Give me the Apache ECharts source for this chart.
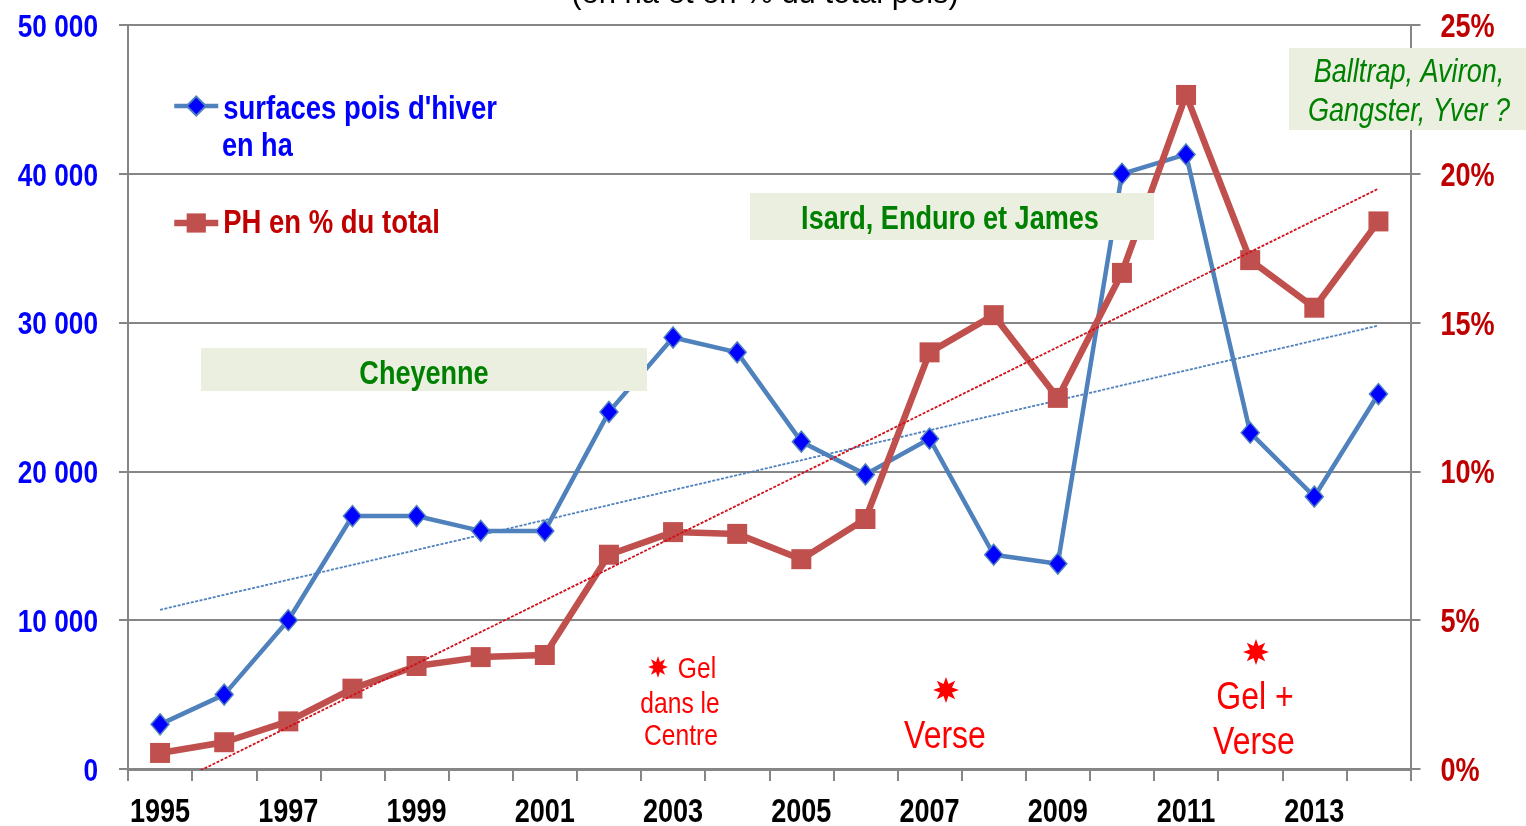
<!DOCTYPE html>
<html><head><meta charset="utf-8">
<style>html,body{margin:0;padding:0;background:#fff}#c{width:1526px;height:826px}</style>
<script src="https://cdn.jsdelivr.net/npm/echarts@6/dist/echarts.min.js"></script></head>
<body><div id="c"></div>
<script>
const years=['1995','1996','1997','1998','1999','2000','2001','2002','2003','2004','2005','2006','2007','2008','2009','2010','2011','2012','2013','2014'];
const surfaces=[3000,5000,10000,17000,17000,16000,16000,24000,29000,28000,22000,19800,22200,14400,13800,40000,41300,22600,18300,25200];
const partPH=[0.54,0.9,1.6,2.7,3.46,3.76,3.83,7.2,7.96,7.9,7.05,8.4,14,15.25,12.47,16.67,22.65,17.1,15.5,18.4];
const trendSurfaces=[10700,null,null,null,null,null,null,null,null,null,null,null,null,null,null,null,null,null,null,29800];
const trendPH=[-0.72,null,null,null,null,null,null,null,null,null,null,null,null,null,null,null,null,null,null,19.5];
const nameSurf="surfaces pois d'hiver en ha", namePH="PH en % du total";
const NARROW='"Liberation Sans Narrow","Liberation Sans",sans-serif';
const GRAY='#868686', BLUE='#4F81BD', RED='#C0504D', BOX='#EBEFE0', GREEN='#008000', ALERT='#FF0000';
const SQUEEZE=0.82;

function star(cx,cy,rx,ry){const p=[];for(let i=0;i<16;i++){const a=i*Math.PI/8-Math.PI/2,k=i%2?0.5:1;p.push([cx+rx*k*Math.cos(a),cy+ry*k*Math.sin(a)]);}
 return {type:'polygon',z:100,shape:{points:p},style:{fill:ALERT}};}
function txt(x,y,t,size,fill,extra){return {type:'text',x,y,z:101,style:Object.assign({text:t,fontFamily:NARROW,fontSize:size,fill,align:'center',verticalAlign:'middle'},extra||{})};}
function box(x,y,w,h){return {type:'rect',z:100,shape:{x,y,width:w,height:h},style:{fill:BOX}};}
const B={fontWeight:'bold'}, I={fontStyle:'italic'};

const chart=echarts.init(document.getElementById('c'),null,{renderer:'canvas'});
chart.setOption({
 animation:false,backgroundColor:'#fff',
 grid:{left:128,right:115.5,top:25,bottom:57,containLabel:false,outerBoundsMode:'none'},
 legend:{left:166,top:84,orient:'vertical',itemWidth:44,itemHeight:24,itemGap:83,align:'left',
  data:[{name:nameSurf,textStyle:{color:'#0000FF'},lineStyle:{width:4.5,color:BLUE}},
        {name:namePH,textStyle:{color:'#C00000'},lineStyle:{width:6.5,color:RED}}],
  formatter:n=>n===nameSurf?"surfaces pois d'hiver":n,
  textStyle:{fontFamily:NARROW,fontWeight:'bold',fontSize:33.5}},
 xAxis:{type:'category',data:years,boundaryGap:true,
  axisLine:{lineStyle:{color:GRAY,width:3}},
  axisTick:{show:true,interval:0,length:12,lineStyle:{color:GRAY,width:2}},
  axisLabel:{interval:1,color:'#000',fontFamily:NARROW,fontWeight:'bold',fontSize:33,margin:27}},
 yAxis:[
  {type:'value',min:0,max:50000,interval:10000,
   axisLine:{show:true,lineStyle:{color:GRAY,width:2}},
   axisTick:{show:true,length:9,lineStyle:{color:GRAY,width:2}},
   splitLine:{show:true,lineStyle:{color:GRAY,width:2}},
   axisLabel:{color:'#0000FF',fontFamily:NARROW,fontWeight:'bold',fontSize:32,margin:30,
    formatter:v=>v===0?'0':String(v/1000)+' 000'}},
  {type:'value',min:0,max:25,interval:5,
   axisLine:{show:true,lineStyle:{color:GRAY,width:2}},
   axisTick:{show:true,length:10,lineStyle:{color:GRAY,width:2}},
   splitLine:{show:false},
   axisLabel:{color:'#C00000',fontFamily:NARROW,fontWeight:'bold',fontSize:33,margin:30,formatter:'{value}%'}}
 ],
 series:[
  {name:'trend surfaces',type:'line',data:trendSurfaces,connectNulls:true,showSymbol:false,symbol:'none',z:3,
   lineStyle:{color:BLUE,width:1.8,type:[3,1.5]}},
  {name:nameSurf,type:'line',data:surfaces,z:4,symbol:'diamond',symbolSize:[18,21],showAllSymbol:true,
   lineStyle:{color:BLUE,width:4.5},itemStyle:{color:'#0000FF',borderColor:BLUE,borderWidth:1.5}},
  {name:namePH,type:'line',yAxisIndex:1,data:partPH,z:5,symbol:'rect',symbolSize:20,showAllSymbol:true,
   lineStyle:{color:RED,width:6.5},itemStyle:{color:RED,borderColor:RED,borderWidth:0}},
  {name:'trend PH',type:'line',yAxisIndex:1,data:trendPH,connectNulls:true,showSymbol:false,symbol:'none',z:6,
   lineStyle:{color:'#D0101A',width:1.8,type:[3,1.5]}}
 ],
 graphic:[
  txt(765,-6,'(en ha et en % du total pois)',31,'#000',{fontFamily:'"Liberation Sans",sans-serif'}),
  txt(222,147,'en ha',33,'#0000FF',{align:'left',fontWeight:'bold'}),
  box(201,348,446,43), txt(424,375,'Cheyenne',33,GREEN,B),
  box(750,193,404,47), txt(950,220,'Isard, Enduro et James',33,GREEN,B),
  box(1289,48,237,82), txt(1409,73,'Balltrap, Aviron,',33,GREEN,I), txt(1409,112,'Gangster, Yver ?',33,GREEN,I),
  star(658,667,10,11), txt(697,670,'Gel',30,ALERT), txt(680,705,'dans le',30,ALERT), txt(681,737,'Centre',30,ALERT),
  star(946,690,13,13), txt(945,737,'Verse',39,ALERT),
  star(1256,652,13,13), txt(1255,698,'Gel +',39,ALERT), txt(1254,743,'Verse',39,ALERT)
 ]
});
// The reference's lettering is a narrow face: compress the real text elements horizontally.
const zr=chart.getZr();
zr.storage.traverse(el=>{
 if(el.type==='text'&&el.style&&String(el.style.fontFamily||el.style.font||'').indexOf('Narrow')>=0){
  el.originX=el.style.x||0; el.scaleX=SQUEEZE;
  const t=String(el.style.text);
  if(/( 000|%)$/.test(t)||t==='0') el.y=(el.y||0)+3;
  if(t==="surfaces pois d'hiver") el.y=(el.y||0)+4;
  if(t===namePH) el.y=(el.y||0)+1;
  el.markRedraw();
 }
});
zr.refreshImmediately&&zr.refreshImmediately();
</script></body></html>
